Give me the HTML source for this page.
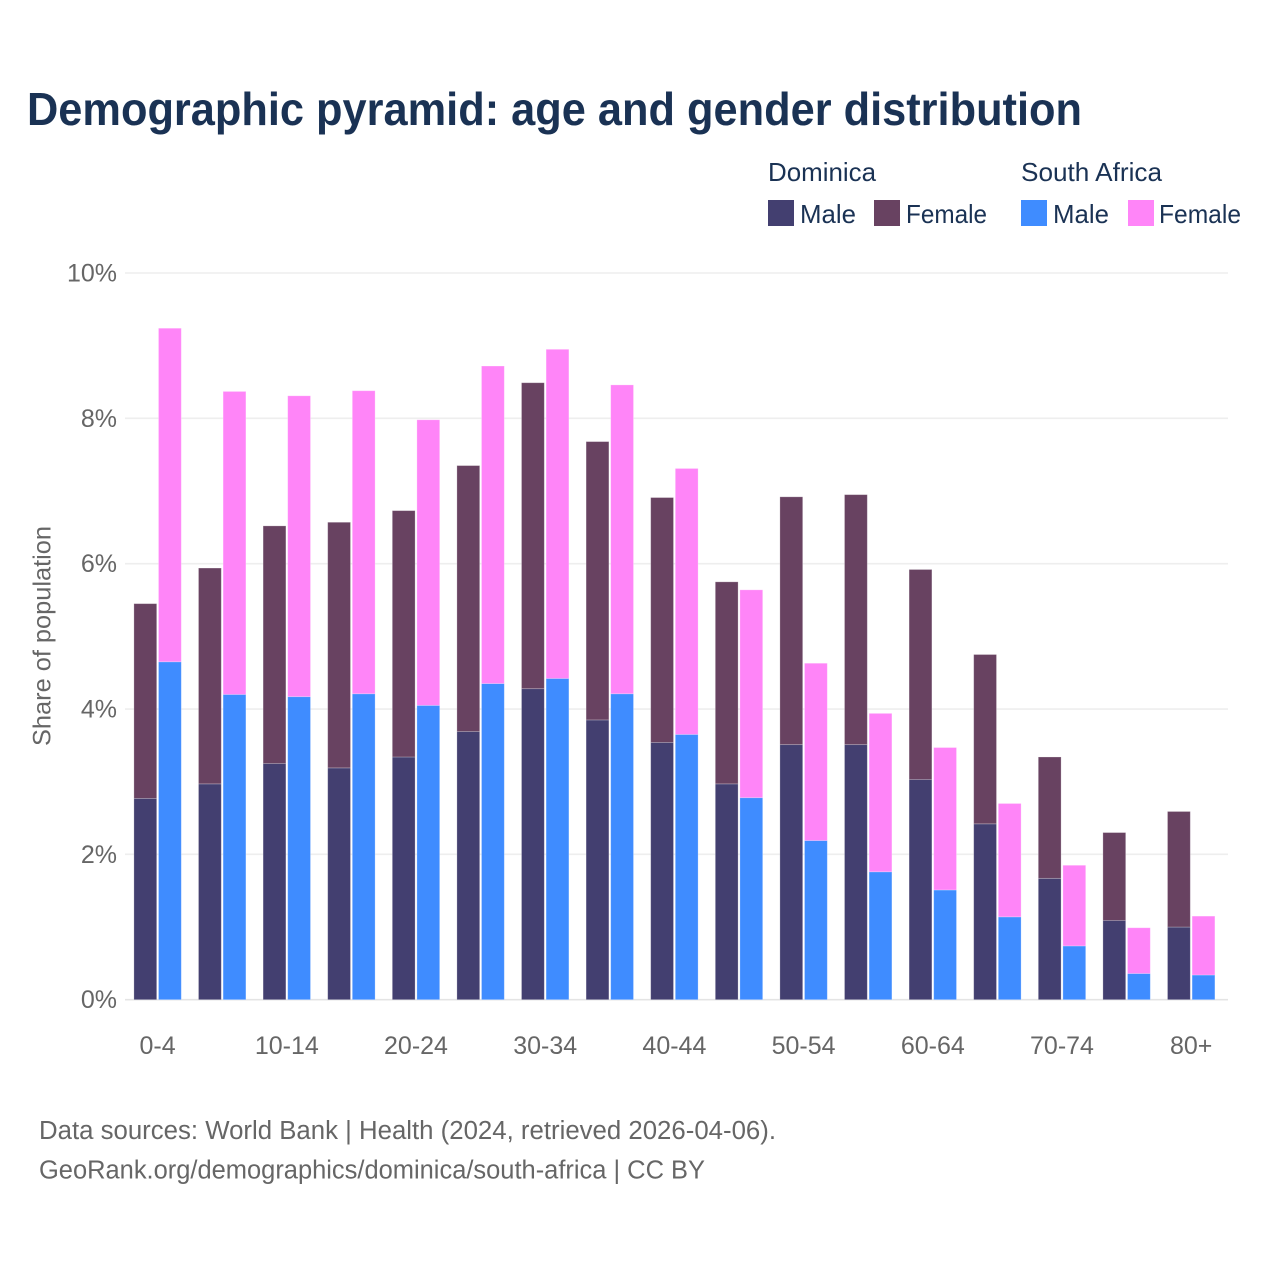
<!DOCTYPE html>
<html lang="en">
<head>
<meta charset="utf-8">
<title>Demographic pyramid: age and gender distribution</title>
<style>
  html, body { margin: 0; padding: 0; background: #fff; }
  svg { display: block; font-family: "Liberation Sans", sans-serif; }
  .tick { font-size: 25px; fill: #666; }
  .legend { font-size: 26px; fill: #1a3254; }
  .foot { font-size: 25.5px; fill: #666; }
</style>
</head>
<body>
<svg id="chart" xmlns="http://www.w3.org/2000/svg" width="1280" height="1280" viewBox="0 0 1280 1280">
  <rect x="0" y="0" width="1280" height="1280" fill="#fff"/>
  <text x="27" y="125" font-size="46" font-weight="700" fill="#1a3254" textLength="1055" lengthAdjust="spacingAndGlyphs">Demographic pyramid: age and gender distribution</text>

  <g>
    <text class="legend" x="768" y="181" textLength="108" lengthAdjust="spacingAndGlyphs">Dominica</text>
    <text class="legend" x="1021" y="181" textLength="141" lengthAdjust="spacingAndGlyphs">South Africa</text>
    <rect x="768" y="200" width="26" height="26" fill="#433f70"/>
    <text class="legend" x="800" y="223" textLength="56" lengthAdjust="spacingAndGlyphs">Male</text>
    <rect x="874" y="200" width="26" height="26" fill="#684261"/>
    <text class="legend" x="906" y="223" textLength="81" lengthAdjust="spacingAndGlyphs">Female</text>
    <rect x="1021" y="200" width="26" height="26" fill="#3f8cff"/>
    <text class="legend" x="1053" y="223" textLength="56" lengthAdjust="spacingAndGlyphs">Male</text>
    <rect x="1128" y="200" width="26" height="26" fill="#ff85f8"/>
    <text class="legend" x="1159" y="223" textLength="82" lengthAdjust="spacingAndGlyphs">Female</text>
  </g>

  <g id="grid"></g>
  <g id="bars"></g>
  <g id="xaxis"></g>

  <text transform="translate(50.5,746) rotate(-90)" font-size="25" fill="#666" textLength="220" lengthAdjust="spacingAndGlyphs">Share of population</text>

  <text class="foot" x="39" y="1139" textLength="737" lengthAdjust="spacingAndGlyphs">Data sources: World Bank | Health (2024, retrieved 2026-04-06).</text>
  <text class="foot" x="39" y="1178.5" textLength="666" lengthAdjust="spacingAndGlyphs">GeoRank.org/demographics/dominica/south-africa | CC BY</text>
</svg>
<script>
const categories = ["0-4","5-9","10-14","15-19","20-24","25-29","30-34","35-39","40-44","45-49","50-54","55-59","60-64","65-69","70-74","75-79","80+"];
const dominicaMale = [2.77,2.97,3.25,3.19,3.34,3.69,4.28,3.85,3.54,2.97,3.51,3.51,3.03,2.42,1.67,1.09,1.00];
const dominicaFemale = [2.68,2.97,3.27,3.38,3.39,3.66,4.21,3.83,3.37,2.78,3.41,3.44,2.89,2.33,1.67,1.21,1.59];
const southAfricaMale = [4.65,4.20,4.17,4.21,4.05,4.35,4.42,4.21,3.65,2.78,2.19,1.76,1.51,1.14,0.74,0.36,0.34];
const southAfricaFemale = [4.59,4.17,4.14,4.17,3.93,4.37,4.53,4.25,3.66,2.86,2.44,2.18,1.96,1.56,1.11,0.63,0.81];
const yTicks = [0,2,4,6,8,10];

const NS = "http://www.w3.org/2000/svg";
const plotLeft = 125, plotRight = 1228, yZero = 999.7, yTop = 273;
const groupStart = 157.6, groupStep = 64.6, barWidth = 22.8, barOffset = 12.3;

function yScale(v) { return yZero - (v / 10) * (yZero - yTop); }
function xScale(i) { return groupStart + i * groupStep; }

function make(tag, attrs, parent) {
  const el = document.createElementNS(NS, tag);
  for (const k in attrs) el.setAttribute(k, attrs[k]);
  parent.appendChild(el);
  return el;
}

const grid = document.getElementById("grid");
yTicks.forEach(function (t) {
  const line = make("line", { x1: plotLeft, x2: plotRight, y1: yScale(t), y2: yScale(t), stroke: t === 0 ? "#e4e4e4" : "#eeeeee", "stroke-width": 1.6 }, grid);
  
  
  const label = make("text", { x: 117, y: yScale(t) + 8.5, "text-anchor": "end", class: "tick" }, grid);
  label.textContent = t + "%";
  
  
});

const barsGroup = document.getElementById("bars");
function addBar(x, base, value, fill, name) {
  const top = yScale(base + value);
  const bar = make("rect", { x: x - barWidth / 2, y: top, width: barWidth, height: yScale(base) - top, fill: fill, stroke: "#fff", "stroke-opacity": 0.3, "stroke-width": 0.8 }, barsGroup);
  
  
}

categories.forEach(function (c, i) {
  const cx = xScale(i);
  addBar(cx - barOffset, 0, dominicaMale[i], "#433f70", "bar-dominica-male-" + c);
  addBar(cx - barOffset, dominicaMale[i], dominicaFemale[i], "#684261", "bar-dominica-female-" + c);
  addBar(cx + barOffset, 0, southAfricaMale[i], "#3f8cff", "bar-south-africa-male-" + c);
  addBar(cx + barOffset, southAfricaMale[i], southAfricaFemale[i], "#ff85f8", "bar-south-africa-female-" + c);
});

const xaxis = document.getElementById("xaxis");
categories.forEach(function (c, i) {
  if (i % 2 !== 0) return;
  const label = make("text", { x: xScale(i), y: 1054, "text-anchor": "middle", class: "tick" }, xaxis);
  label.textContent = c;
  
  
});
</script>
</body>
</html>
